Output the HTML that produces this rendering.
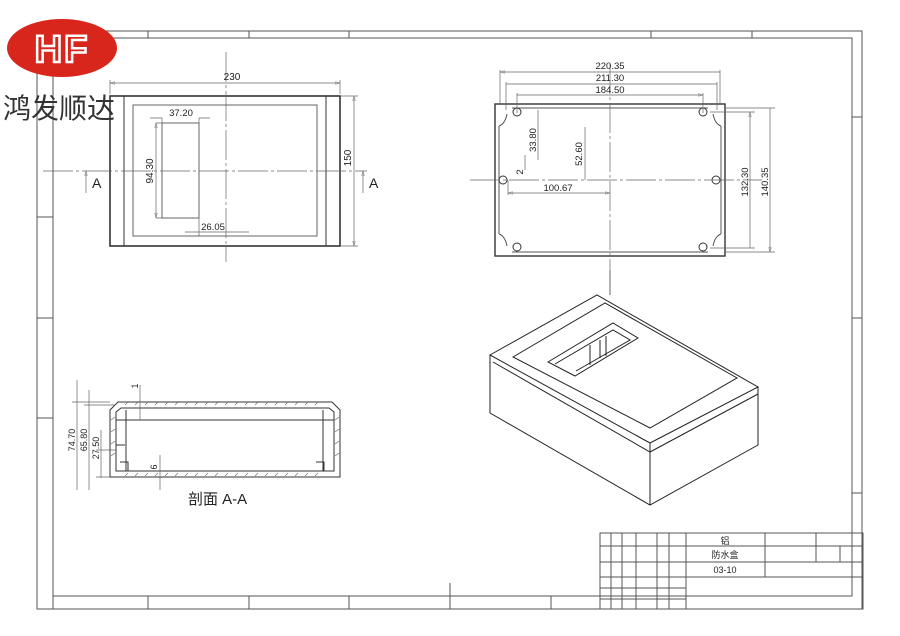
<!DOCTYPE html>
<html><head><meta charset="utf-8"><style>
html,body{margin:0;padding:0;background:#fff;}
svg{display:block;}
text{font-family:"Liberation Sans","Noto Sans CJK SC",sans-serif;fill:#222;}
</style></head><body>
<svg width="900" height="636" viewBox="0 0 900 636" xmlns="http://www.w3.org/2000/svg">
<defs>
<marker id="a" viewBox="0 0 10 6" refX="10" refY="3" markerWidth="8" markerHeight="4" orient="auto-start-reverse"><path d="M0 0L10 3L0 6Z" fill="none" stroke="#666" stroke-width="0.8"/></marker>
</defs>
<rect width="900" height="636" fill="#fff"/>
<g fill="none" stroke="#555" stroke-width="1">
<rect x="37" y="31" width="825" height="578"/>
<path d="M53 609 V38 H852 V596 H53"/>
<path d="M148 31v7M249 31v7M349 31v7M651 31v7M752 31v7"/>
<path d="M148 596v13M249 596v13M349 596v13M450 583v26M551 596v13"/>
<path d="M37 217h16M37 318h16M37 418h16M852 117h10M852 318h10M852 493h10"/>
<rect x="600" y="533" width="263" height="76"/>
<path d="M600 546h263M600 562h263M600 577h263M600 588h86M600 599h86"/>
<path d="M611 533v76M622 533v76M636 533v76M657 533v76M669 533v76M686 533v76M765 533v44M816 533v29M840 546v16"/>
</g>
<text x="725" y="544" font-size="9" text-anchor="middle">铝</text>
<text x="725" y="558" font-size="9" text-anchor="middle">防水盒</text>
<text x="725" y="573" font-size="9" text-anchor="middle">03-10</text>

<ellipse cx="62" cy="48" rx="55" ry="29" fill="#d9261c"/>
<text x="62" y="62" font-size="38" font-weight="bold" text-anchor="middle" style="fill:#d9261c;stroke:#fff;stroke-width:2.5" letter-spacing="2">HF</text>
<text x="3" y="118" font-size="28" style="fill:#333">鸿发顺达</text>

<g fill="none" stroke="#333" stroke-width="1">
<rect x="110" y="96" width="230" height="150" stroke-width="1.6"/>
<path d="M124 96v150M326 96v150"/>
<rect x="133" y="105" width="184" height="131" stroke="#666"/>
<rect x="162" y="123" width="37" height="95" stroke="#666"/>
</g>
<g stroke="#666" stroke-width="0.7" fill="none">
<path d="M226 52v210M43 171h324" stroke-dasharray="30 3 3 3"/>
<path d="M110 80v14M340 80v14"/>
<path d="M110 83h230" marker-start="url(#a)" marker-end="url(#a)"/>
<path d="M340 96h18M340 246h18"/>
<path d="M354 96v150" marker-start="url(#a)" marker-end="url(#a)"/>
<path d="M150 118h12M199 118h11M162 118v5M199 118v5"/>
<path d="M156 123v95" marker-start="url(#a)" marker-end="url(#a)"/>
<path d="M156 123h6M156 218h6"/>
<path d="M185 232h64M199 218v18"/>
<path d="M86 193v-22" marker-end="url(#a)"/>
<path d="M363 193v-22" marker-end="url(#a)"/>
</g>
<text x="232" y="80" font-size="10" text-anchor="middle">230</text>
<text x="181" y="116" font-size="9.5" text-anchor="middle">37.20</text>
<text x="213" y="230" font-size="9.5" text-anchor="middle">26.05</text>
<text transform="translate(351,158) rotate(-90)" font-size="10" text-anchor="middle">150</text>
<text transform="translate(153,171) rotate(-90)" font-size="10" text-anchor="middle">94.30</text>
<text x="92" y="188" font-size="14">A</text>
<text x="369" y="188" font-size="14">A</text>

<g fill="none" stroke="#333" stroke-width="1">
<rect x="495" y="104" width="230" height="152" stroke-width="1.4"/>
<path d="M512 108H708 M512 252H708 M499 126V234 M721 126V234" stroke="#555"/>
<path d="M499 126q6-2 8-12M721 126q-6-2-8-12M499 234q6 2 8 12M721 234q-6 2-8 12" stroke="#555"/>
<circle cx="517" cy="112" r="4"/><circle cx="703" cy="112" r="4"/>
<circle cx="503" cy="180" r="4"/><circle cx="716" cy="180" r="4"/>
<circle cx="517" cy="247" r="4"/><circle cx="703" cy="247" r="4"/>
</g>
<g stroke="#666" stroke-width="0.7" fill="none">
<path d="M610 64v206M470 180h292" stroke-dasharray="30 3 3 3"/>
<path d="M500 72h220M506 84h211M517 95h186" marker-start="url(#a)" marker-end="url(#a)"/>
<path d="M500 70v35M720 70v35M506 82v28M717 82v28M517 93v20M703 93v20"/>
<path d="M710 112h45M710 248h45M725 108h50M725 252h50"/>
<path d="M750 112v136M770 108v144" marker-start="url(#a)" marker-end="url(#a)"/>
<path d="M538 110v50M585 127v53M525 155v15"/>
<path d="M508 193h102" marker-start="url(#a)" marker-end="url(#a)"/>
<path d="M508 180v15"/>
</g>
<text x="610" y="69" font-size="9.5" text-anchor="middle">220.35</text>
<text x="610" y="81" font-size="9.5" text-anchor="middle">211.30</text>
<text x="610" y="93" font-size="9.5" text-anchor="middle">184.50</text>
<text x="558" y="191" font-size="9.5" text-anchor="middle">100.67</text>
<text transform="translate(536,140) rotate(-90)" font-size="9.5" text-anchor="middle">33.80</text>
<text transform="translate(582,154) rotate(-90)" font-size="9.5" text-anchor="middle">52.60</text>
<text transform="translate(523,172) rotate(-90)" font-size="9.5" text-anchor="middle">2</text>
<text transform="translate(748,182) rotate(-90)" font-size="9.5" text-anchor="middle">132.30</text>
<text transform="translate(768,182) rotate(-90)" font-size="9.5" text-anchor="middle">140.35</text>

<g fill="none" stroke="#222" stroke-width="1">
<path d="M490 355L597 295L758 387L650 443Z"/>
<path d="M490 355V413L650 505L758 445V387"/>
<path d="M650 443V505"/>
<path d="M493 362L650 452L758 394"/>
<path d="M513 357L605 303L737 378L650 428Z"/>
<path d="M548 362L613 323L638 338L575 376Z"/>
<path d="M555 364L613 330L630 340L576 371M590 345v20M600 340v18M606 336v20"/>
<path d="M610 270v25" stroke="#666"/>
</g>

<g fill="none" stroke="#333" stroke-width="1">
<path d="M110 477V410L118 402H332L340 410V477Z"/>
<path d="M116 471V412L121 408H329L334 412V471Z"/>
<path d="M116 420H334M126 410V471M323 410V471M116 445H125M316 462h8v9M120 462h8v9"/>
</g>
<g stroke="#666" stroke-width="0.6">
<path d="M125 405l3-3M135 405l3-3M145 405l3-3M155 405l3-3M165 405l3-3M175 405l3-3M185 405l3-3M195 405l3-3M205 405l3-3M215 405l3-3M225 405l3-3M235 405l3-3M245 405l3-3M255 405l3-3M265 405l3-3M275 405l3-3M285 405l3-3M295 405l3-3M305 405l3-3M315 405l3-3"/>
<path d="M125 476l3-3M135 476l3-3M145 476l3-3M155 476l3-3M165 476l3-3M175 476l3-3M185 476l3-3M195 476l3-3M205 476l3-3M215 476l3-3M225 476l3-3M235 476l3-3M245 476l3-3M255 476l3-3M265 476l3-3M275 476l3-3M285 476l3-3M295 476l3-3M305 476l3-3M315 476l3-3"/>
<path d="M111 420l4-3M111 432l4-3M111 444l4-3M111 456l4-3M335 420l4-3M335 432l4-3M335 444l4-3M335 456l4-3"/>
</g>
<g stroke="#666" stroke-width="0.7" fill="none">
<path d="M77 380v110M89 390v100M101 430v48M72 402h38M84 405h30M96 477h14M96 450h20"/>
<path d="M140 385v35M160 455v35"/>
</g>
<text transform="translate(75,440) rotate(-90)" font-size="9" text-anchor="middle">74.70</text>
<text transform="translate(87,440) rotate(-90)" font-size="9" text-anchor="middle">65.80</text>
<text transform="translate(99,448) rotate(-90)" font-size="9" text-anchor="middle">27.50</text>
<text transform="translate(138,386) rotate(-90)" font-size="9" text-anchor="middle">1</text>
<text transform="translate(157,467) rotate(-90)" font-size="9" text-anchor="middle">6</text>
<text x="188" y="504" font-size="15">剖面 A-A</text>
</svg>
</body></html>
